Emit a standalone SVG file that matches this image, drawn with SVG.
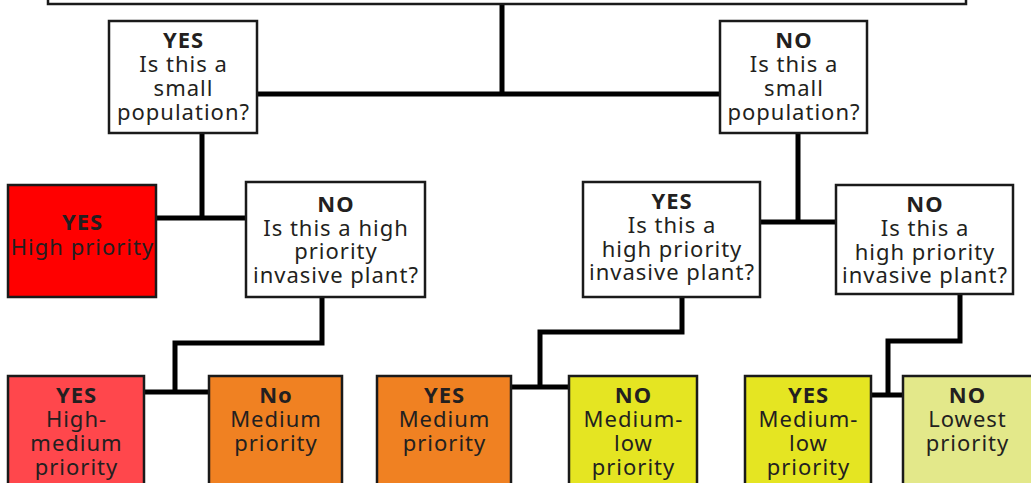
<svg xmlns="http://www.w3.org/2000/svg" width="1031" height="483" viewBox="0 0 1031 483">
<style>
.box{stroke:#1a1a1a;stroke-width:2.5}
.q{fill:#ffffff}
.t{font-family:"Noto Sans","Open Sans",sans-serif;font-size:22px;letter-spacing:1px;fill:#231f20;text-anchor:middle}
.b{font-weight:bold}
.c{fill:none;stroke:#000;stroke-width:5;stroke-linecap:butt;stroke-linejoin:miter}
</style>
<rect width="1031" height="483" fill="#fff"/>
<g id="connectors">
<path class="c" d="M502,4 V94 M257,94 H722"/>
<path class="c" d="M202,133 V218 M156,218 H246"/>
<path class="c" d="M322,297 V343 H175 V392 M144,392 H209"/>
<path class="c" d="M798,133 V222 M760,222 H836"/>
<path class="c" d="M682,297 V332 H540 V387 M511,387 H569"/>
<path class="c" d="M960,294 V341 H888 V395 M871,395 H903"/>
</g>
<g id="top"><rect class="box q" x="48" y="-10" width="918" height="14" stroke-width="3"/></g>
<g id="yes-small"><rect class="box q" x="109" y="21" width="148" height="112"/>
<text class="t"><tspan class="b" x="183.5" y="48">YES</tspan><tspan x="183.5" y="72">Is this a</tspan><tspan x="183.5" y="96">small</tspan><tspan x="183.5" y="120">population?</tspan></text></g>
<g id="no-small"><rect class="box q" x="720" y="21" width="147" height="112"/>
<text class="t"><tspan class="b" x="794" y="48">NO</tspan><tspan x="794" y="72">Is this a</tspan><tspan x="794" y="96">small</tspan><tspan x="794" y="120">population?</tspan></text></g>
<g id="high"><rect class="box" fill="#ff0000" x="8" y="185" width="148" height="112"/>
<text class="t"><tspan class="b" x="82.5" y="230">YES</tspan><tspan x="82.5" y="255">High priority</tspan></text></g>
<g id="no-hp-left"><rect class="box q" x="246" y="182" width="179" height="115"/>
<text class="t"><tspan class="b" x="336" y="212">NO</tspan><tspan x="336" y="235.5">Is this a high</tspan><tspan x="336" y="259">priority</tspan><tspan x="336" y="282.5">invasive plant?</tspan></text></g>
<g id="yes-hp-right"><rect class="box q" x="583" y="182" width="177" height="115"/>
<text class="t"><tspan class="b" x="672" y="209">YES</tspan><tspan x="672" y="233">Is this a</tspan><tspan x="672" y="256.5">high priority</tspan><tspan x="672" y="280">invasive plant?</tspan></text></g>
<g id="no-hp-right"><rect class="box q" x="836" y="185" width="177" height="109"/>
<text class="t"><tspan class="b" x="925" y="212">NO</tspan><tspan x="925" y="236">Is this a</tspan><tspan x="925" y="259.5">high priority</tspan><tspan x="925" y="283">invasive plant?</tspan></text></g>
<g id="high-medium"><rect class="box" fill="#ff474c" x="8" y="376" width="136" height="120"/>
<text class="t"><tspan class="b" x="76.5" y="403">YES</tspan><tspan x="76.5" y="427">High-</tspan><tspan x="76.5" y="451">medium</tspan><tspan x="76.5" y="475">priority</tspan></text></g>
<g id="medium-no"><rect class="box" fill="#f08122" x="209" y="376" width="133" height="120"/>
<text class="t"><tspan class="b" x="276" y="403">No</tspan><tspan x="276" y="427">Medium</tspan><tspan x="276" y="451">priority</tspan></text></g>
<g id="medium-yes"><rect class="box" fill="#f08122" x="377" y="376" width="134" height="120"/>
<text class="t"><tspan class="b" x="444.5" y="403">YES</tspan><tspan x="444.5" y="427">Medium</tspan><tspan x="444.5" y="451">priority</tspan></text></g>
<g id="medium-low-no"><rect class="box" fill="#e5e522" x="569" y="376" width="128" height="120"/>
<text class="t"><tspan class="b" x="633.5" y="403">NO</tspan><tspan x="633.5" y="427">Medium-</tspan><tspan x="633.5" y="451">low</tspan><tspan x="633.5" y="475">priority</tspan></text></g>
<g id="medium-low-yes"><rect class="box" fill="#e5e522" x="745" y="376" width="126" height="120"/>
<text class="t"><tspan class="b" x="808.5" y="403">YES</tspan><tspan x="808.5" y="427">Medium-</tspan><tspan x="808.5" y="451">low</tspan><tspan x="808.5" y="475">priority</tspan></text></g>
<g id="lowest"><rect class="box" fill="#e3e88a" x="903" y="376" width="140" height="120"/>
<text class="t"><tspan class="b" x="967.5" y="403">NO</tspan><tspan x="967.5" y="427">Lowest</tspan><tspan x="967.5" y="451">priority</tspan></text></g>
</svg>
